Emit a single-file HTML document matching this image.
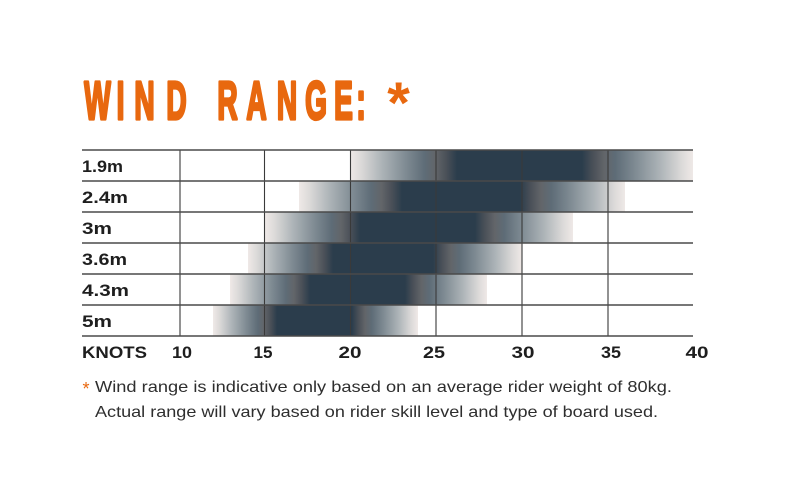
<!DOCTYPE html>
<html>
<head>
<meta charset="utf-8">
<style>
  html,body{margin:0;padding:0;background:#ffffff;}
  svg{display:block;}
</style>
</head>
<body>
<svg width="800" height="497" viewBox="0 0 800 497" xmlns="http://www.w3.org/2000/svg">
  <defs>
    <linearGradient id="fadeL" x1="0" y1="0" x2="1" y2="0">
      <stop offset="0" stop-color="#efe9e7"/>
      <stop offset="0.1" stop-color="#dcdad9"/>
      <stop offset="0.3" stop-color="#acb3b7"/>
      <stop offset="0.52" stop-color="#7f8b93"/>
      <stop offset="0.7" stop-color="#5e6c77"/>
      <stop offset="0.8" stop-color="#626569"/>
      <stop offset="0.9" stop-color="#4a5058"/>
      <stop offset="1" stop-color="#2b3d4c"/>
    </linearGradient>
    <linearGradient id="fadeR" x1="1" y1="0" x2="0" y2="0">
      <stop offset="0" stop-color="#efe9e7"/>
      <stop offset="0.1" stop-color="#dcdad9"/>
      <stop offset="0.3" stop-color="#acb3b7"/>
      <stop offset="0.52" stop-color="#7f8b93"/>
      <stop offset="0.7" stop-color="#5e6c77"/>
      <stop offset="0.8" stop-color="#626569"/>
      <stop offset="0.9" stop-color="#4a5058"/>
      <stop offset="1" stop-color="#2b3d4c"/>
    </linearGradient>
  </defs>

  <!-- Title -->
  <g font-family="'Liberation Sans', sans-serif" font-weight="bold" font-size="54" fill="#e8680f" stroke="#e8680f" stroke-width="3.2" stroke-linejoin="round" text-anchor="middle">
    <text transform="translate(97.5,119) scale(0.52,1)" x="0" y="0">W</text>
    <text transform="translate(120.5,119) scale(0.52,1)" x="0" y="0">I</text>
    <text transform="translate(144.5,119) scale(0.52,1)" x="0" y="0">N</text>
    <text transform="translate(176.5,119) scale(0.52,1)" x="0" y="0">D</text>
    <text transform="translate(227.5,119) scale(0.52,1)" x="0" y="0">R</text>
    <text transform="translate(256.5,119) scale(0.52,1)" x="0" y="0">A</text>
    <text transform="translate(287,119) scale(0.52,1)" x="0" y="0">N</text>
    <text transform="translate(316,119) scale(0.52,1)" x="0" y="0">G</text>
    <text transform="translate(343.5,119) scale(0.52,1)" x="0" y="0">E</text>
    <text transform="translate(361,119) scale(0.52,1)" x="0" y="0">:</text>
  </g>
  <text x="398.5" y="123" font-family="'Liberation Sans', sans-serif" font-weight="bold" font-size="58" fill="#e8680f" text-anchor="middle">*</text>

  <!-- Bars -->
  <rect x="350" y="150" width="107" height="31" fill="url(#fadeL)"/>
  <rect x="457" y="150" width="125" height="31" fill="#2b3d4c"/>
  <rect x="582" y="150" width="111" height="31" fill="url(#fadeR)"/>

  <rect x="299" y="181" width="103" height="31" fill="url(#fadeL)"/>
  <rect x="402" y="181" width="118" height="31" fill="#2b3d4c"/>
  <rect x="520" y="181" width="105" height="31" fill="url(#fadeR)"/>

  <rect x="265" y="212" width="95" height="31" fill="url(#fadeL)"/>
  <rect x="360" y="212" width="115" height="31" fill="#2b3d4c"/>
  <rect x="475" y="212" width="98" height="31" fill="url(#fadeR)"/>

  <rect x="248" y="243" width="85" height="31" fill="url(#fadeL)"/>
  <rect x="333" y="243" width="100" height="31" fill="#2b3d4c"/>
  <rect x="433" y="243" width="89" height="31" fill="url(#fadeR)"/>

  <rect x="230" y="274" width="80" height="31" fill="url(#fadeL)"/>
  <rect x="310" y="274" width="95" height="31" fill="#2b3d4c"/>
  <rect x="405" y="274" width="82" height="31" fill="url(#fadeR)"/>

  <rect x="213" y="305" width="64" height="31" fill="url(#fadeL)"/>
  <rect x="277" y="305" width="75" height="31" fill="#2b3d4c"/>
  <rect x="352" y="305" width="66" height="31" fill="url(#fadeR)"/>

  <!-- Grid -->
  <g stroke="#3a3a3a" stroke-width="1.1">
    <line x1="180" y1="150" x2="180" y2="336"/>
    <line x1="264.5" y1="150" x2="264.5" y2="336"/>
    <line x1="350.5" y1="150" x2="350.5" y2="336"/>
    <line x1="436" y1="150" x2="436" y2="336"/>
    <line x1="522" y1="150" x2="522" y2="336"/>
    <line x1="608" y1="150" x2="608" y2="336"/>
  </g>
  <g stroke="#4a4a4a" stroke-width="1.5">
    <line x1="82" y1="150" x2="693" y2="150"/>
    <line x1="82" y1="181" x2="693" y2="181"/>
    <line x1="82" y1="212" x2="693" y2="212"/>
    <line x1="82" y1="243" x2="693" y2="243"/>
    <line x1="82" y1="274" x2="693" y2="274"/>
    <line x1="82" y1="305" x2="693" y2="305"/>
    <line x1="82" y1="336" x2="693" y2="336"/>
  </g>

  <!-- Row labels -->
  <g font-family="'Liberation Sans', sans-serif" font-weight="bold" font-size="17" fill="#1e1e1e">
    <text x="82" y="172" textLength="41" lengthAdjust="spacingAndGlyphs">1.9m</text>
    <text x="82" y="203" textLength="46" lengthAdjust="spacingAndGlyphs">2.4m</text>
    <text x="82" y="234" textLength="30" lengthAdjust="spacingAndGlyphs">3m</text>
    <text x="82" y="265" textLength="45" lengthAdjust="spacingAndGlyphs">3.6m</text>
    <text x="82" y="296" textLength="47" lengthAdjust="spacingAndGlyphs">4.3m</text>
    <text x="82" y="327" textLength="30" lengthAdjust="spacingAndGlyphs">5m</text>
    <text x="82" y="358" textLength="65" lengthAdjust="spacingAndGlyphs">KNOTS</text>
  </g>
  <g font-family="'Liberation Sans', sans-serif" font-weight="bold" font-size="17" fill="#1e1e1e" text-anchor="middle">
    <text x="182" y="358" textLength="20" lengthAdjust="spacingAndGlyphs">10</text>
    <text x="263" y="358" textLength="19" lengthAdjust="spacingAndGlyphs">15</text>
    <text x="350" y="358" textLength="23" lengthAdjust="spacingAndGlyphs">20</text>
    <text x="434" y="358" textLength="22" lengthAdjust="spacingAndGlyphs">25</text>
    <text x="523" y="358" textLength="23" lengthAdjust="spacingAndGlyphs">30</text>
    <text x="611" y="358" textLength="20" lengthAdjust="spacingAndGlyphs">35</text>
    <text x="697" y="358" textLength="23" lengthAdjust="spacingAndGlyphs">40</text>
  </g>

  <!-- Footnote -->
  <text x="82.5" y="395" font-family="'Liberation Sans', sans-serif" font-size="18" fill="#e8680f">*</text>
  <g font-family="'Liberation Sans', sans-serif" font-size="16" fill="#2e2e2e">
    <text x="95" y="392" textLength="577" lengthAdjust="spacingAndGlyphs">Wind range is indicative only based on an average rider weight of 80kg.</text>
    <text x="95" y="417" textLength="563" lengthAdjust="spacingAndGlyphs">Actual range will vary based on rider skill level and type of board used.</text>
  </g>
</svg>
</body>
</html>
